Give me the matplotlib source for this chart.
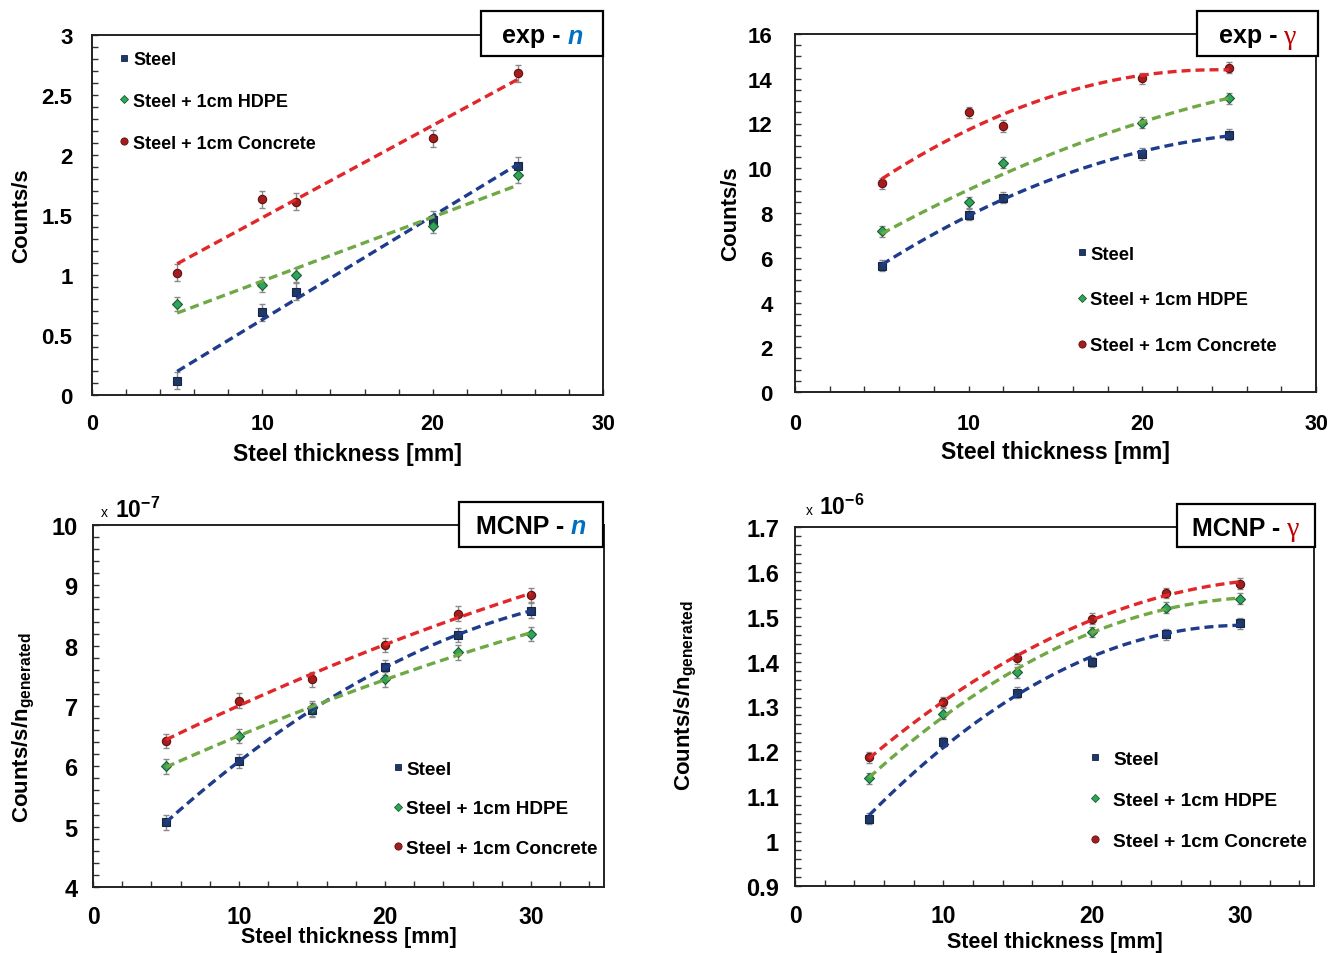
import numpy as np
import matplotlib
matplotlib.use('Agg')
import matplotlib.pyplot as plt
from matplotlib.lines import Line2D
from matplotlib.patches import Rectangle
from matplotlib.ticker import MultipleLocator, FuncFormatter

W, H = 1331, 954
plt.rcParams['font.family'] = ['Liberation Sans', 'DejaVu Sans']
plt.rcParams['font.weight'] = 'bold'
plt.rcParams['mathtext.fontset'] = 'custom'
plt.rcParams['mathtext.rm'] = 'Liberation Sans:bold'
plt.rcParams['mathtext.bf'] = 'Liberation Sans:bold'
plt.rcParams['mathtext.it'] = 'Liberation Sans:bold:italic'

# ---------------- data ----------------
series_labels = ['Steel', 'Steel + 1cm HDPE', 'Steel + 1cm Concrete']

exp_x = [5, 10, 12, 20, 25]
exp_n_steel = [0.12, 0.69, 0.86, 1.46, 1.91]
exp_n_hdpe = [0.76, 0.92, 1.00, 1.41, 1.83]
exp_n_conc = [1.02, 1.63, 1.61, 2.14, 2.68]
exp_n_err = [0.07, 0.06, 0.07]

exp_g_steel = [5.65, 7.92, 8.68, 10.64, 11.50]
exp_g_hdpe = [7.19, 8.47, 10.24, 12.04, 13.13]
exp_g_conc = [9.32, 12.50, 11.89, 14.02, 14.49]
exp_g_err = [0.25, 0.25, 0.25]

mcnp_x = [5, 10, 15, 20, 25, 30]
mcnp_n_steel = [5.07, 6.09, 6.93, 7.64, 8.18, 8.58]   # x 1e-7
mcnp_n_hdpe = [6.00, 6.50, 6.96, 7.44, 7.89, 8.19]
mcnp_n_conc = [6.42, 7.09, 7.44, 8.01, 8.53, 8.84]
mcnp_n_err = [0.12, 0.12, 0.12]

mcnp_g_steel = [1.050, 1.221, 1.331, 1.399, 1.461, 1.485]   # x 1e-6
mcnp_g_hdpe = [1.140, 1.284, 1.376, 1.466, 1.520, 1.540]
mcnp_g_conc = [1.187, 1.310, 1.407, 1.496, 1.553, 1.574]
mcnp_g_err = [0.012, 0.012, 0.012]

# ---------------- styles ----------------
markers = ['s', 'D', 'o']
msizes = [5.5, 5.0, 6.0]
lg_msizes = [4.8, 4.3, 5.2]
mfc = ['#1F3864', '#2EA55A', '#A31D1D']
mec = ['#14244a', '#1c5a30', '#5e1010']
lcol = ['#1F3C8C', '#6FA845', '#E2262A']
BLUE_T = '#0070C0'
RED_T = '#C00000'

fig = plt.figure(figsize=(W / 100, H / 100), dpi=100)


def fx(px):
    return px / W


def fy(py):
    return 1 - py / H


def make_axes(l, t, r, b):
    return fig.add_axes([fx(l), fy(b), (r - l) / W, (b - t) / H])


def fmt(v, pos):
    return f'{round(v, 4):g}'


def panel(rect, x, ys, errs, deg, xlim, ylim, ymaj, ymin, tickfs, ypad, xpad):
    ax = make_axes(*rect)
    x = np.asarray(x, float)
    for i, y in enumerate(ys):
        y = np.asarray(y, float)
        ax.errorbar(x, y, yerr=errs[i], fmt='none', ecolor='#8a8a8a',
                    elinewidth=1.0, capsize=2.5, capthick=1.0, zorder=2)
        ax.plot(x, y, ls='none', marker=markers[i], ms=msizes[i],
                mfc=mfc[i], mec=mec[i], mew=0.8, zorder=3)
        coef = np.polyfit(x, y, deg)
        xs = np.linspace(x.min(), x.max(), 200)
        ax.plot(xs, np.polyval(coef, xs), ls=(0, (2.7, 1.5)), lw=2.4,
                color=lcol[i], zorder=4)
    ax.set_xlim(*xlim)
    ax.set_ylim(*ylim)
    ax.xaxis.set_major_locator(MultipleLocator(10))
    ax.xaxis.set_minor_locator(MultipleLocator(2))
    ax.yaxis.set_major_locator(MultipleLocator(ymaj))
    ax.yaxis.set_minor_locator(MultipleLocator(ymin))
    ax.yaxis.set_major_formatter(FuncFormatter(fmt))
    ax.tick_params(which='both', direction='in', length=4.5, width=1.0,
                   color='#333333')
    ax.tick_params(axis='y', which='major', labelsize=tickfs, pad=ypad)
    ax.tick_params(axis='x', which='major', labelsize=tickfs - 0.5, pad=xpad)
    for lab in ax.get_xticklabels() + ax.get_yticklabels():
        lab.set_fontweight('bold')
    for s in ax.spines.values():
        s.set_linewidth(1.4)
        s.set_color('#222222')
    return ax


def legend(ax, mx, my, fs, ls, tp):
    handles = [Line2D([], [], ls='none', marker=markers[i], ms=lg_msizes[i],
                      mfc=mfc[i], mec=mec[i], mew=0.6) for i in range(3)]
    fs_px = fs * 100 / 72
    hl = 0.7
    ax_x = mx - hl * fs_px / 2
    ax_y = my - 0.56 * fs_px + 4
    ax.legend(handles, series_labels, loc='upper left',
              bbox_to_anchor=(fx(ax_x), fy(ax_y)), bbox_transform=fig.transFigure,
              frameon=False, fontsize=fs, labelspacing=ls, handlelength=hl,
              handletextpad=tp, borderpad=0, borderaxespad=0,
              prop={'weight': 'bold', 'size': fs})


def title_box(x0, y0, x1, y1, main, sym, symcolor, serif):
    fig.add_artist(Rectangle((fx(x0), fy(y1)), (x1 - x0) / W, (y1 - y0) / H,
                             transform=fig.transFigure, fc='white', ec='black',
                             lw=1.6, zorder=10))
    fs = 18
    r = fig.canvas.get_renderer()
    t1 = fig.text(0, 0, main, fontsize=fs, fontweight='bold', zorder=11,
                  va='baseline', ha='left')
    if serif:
        t2 = fig.text(0, 0, sym, fontsize=fs + 2, fontweight='normal',
                      family=['Liberation Serif', 'DejaVu Serif'], color=symcolor,
                      zorder=11, va='baseline', ha='left')
    else:
        t2 = fig.text(0, 0, sym, fontsize=fs, fontweight='bold', style='italic',
                      color=symcolor, zorder=11, va='baseline', ha='left')
    w1 = t1.get_window_extent(r).width
    w2 = t2.get_window_extent(r).width
    gap = 0.28 * fs * 100 / 72
    total = w1 + gap + w2
    cx = (x0 + x1) / 2
    start = cx - total / 2
    base = (y0 + y1) / 2 + 0.36 * fs * 100 / 72
    t1.set_position((fx(start), fy(base)))
    t2.set_position((fx(start + w1 + gap), fy(base)))


# ---------------- panel 1: exp - n ----------------
ax1 = panel((92, 36, 603, 396), exp_x, [exp_n_steel, exp_n_hdpe, exp_n_conc],
            exp_n_err, 1, (0, 30), (0, 3), 0.5, 0.1, 16, 14, 13)
ax1.set_xlabel('Steel thickness [mm]', fontsize=16.5, fontweight='bold')
ax1.xaxis.set_label_coords(0.5, (396 - 454) / 360)
ax1.xaxis.label.set_va('center')
ax1.set_ylabel('Counts/s', fontsize=16, fontweight='bold')
ax1.yaxis.set_label_coords((22 - 92) / 511, 0.5)
ax1.yaxis.label.set_va('center')
legend(ax1, 124, 58, 13, 1.38, 0.15)
title_box(481, 12, 603, 57, 'exp -', 'n', BLUE_T, False)

# ---------------- panel 2: exp - gamma ----------------
ax2 = panel((795, 35, 1316, 393), exp_x, [exp_g_steel, exp_g_hdpe, exp_g_conc],
            exp_g_err, 2, (0, 30), (0, 16), 2, 0.5, 16, 16, 15)
ax2.set_xlabel('Steel thickness [mm]', fontsize=16.5, fontweight='bold')
ax2.xaxis.set_label_coords(0.5, (393 - 453) / 358)
ax2.xaxis.label.set_va('center')
ax2.set_ylabel('Counts/s', fontsize=16, fontweight='bold')
ax2.yaxis.set_label_coords((731 - 795) / 521, 0.5)
ax2.yaxis.label.set_va('center')
legend(ax2, 1082, 253, 13.2, 1.56, 0.1)
title_box(1197, 12, 1318, 57, 'exp -', '\u03b3', RED_T, True)

# ---------------- panel 3: MCNP - n ----------------
ax3 = panel((93, 526, 604, 888), mcnp_x, [mcnp_n_steel, mcnp_n_hdpe, mcnp_n_conc],
            mcnp_n_err, 2, (0, 35), (4, 10), 1, 0.2, 17, 11, 13)
ax3.set_xlabel('Steel thickness [mm]', fontsize=15.5, fontweight='bold')
ax3.xaxis.set_label_coords(0.5, (888 - 938) / 362)
ax3.xaxis.label.set_va('center')
ax3.set_ylabel(r'Counts/s/n$_{\mathrm{generated}}$', fontsize=16, fontweight='bold')
ax3.yaxis.set_label_coords((24 - 93) / 511, (888 - 728) / 362)
ax3.yaxis.label.set_va('center')
legend(ax3, 398, 768, 13.6, 1.18, 0.1)
title_box(459, 503, 603, 548, 'MCNP -', 'n', BLUE_T, False)
fig.text(fx(101), fy(513), 'x', fontsize=10, fontweight='normal', va='center')
fig.text(fx(115), fy(510), r'$\mathbf{10^{-7}}$', fontsize=16.5, va='center')

# ---------------- panel 4: MCNP - gamma ----------------
ax4 = panel((795, 528, 1314, 887), mcnp_x, [mcnp_g_steel, mcnp_g_hdpe, mcnp_g_conc],
            mcnp_g_err, 2, (0, 35), (0.9, 1.7), 0.1, 0.02, 17, 11.5, 13)
ax4.set_xlabel('Steel thickness [mm]', fontsize=15.5, fontweight='bold')
ax4.xaxis.set_label_coords(0.5, (887 - 943) / 359)
ax4.xaxis.label.set_va('center')
ax4.set_ylabel(r'Counts/s/n$_{\mathrm{generated}}$', fontsize=16, fontweight='bold')
ax4.yaxis.set_label_coords((686 - 795) / 519, (887 - 696) / 359)
ax4.yaxis.label.set_va('center')
legend(ax4, 1095, 758, 13.8, 1.23, 0.6)
title_box(1177, 505, 1315, 548, 'MCNP -', '\u03b3', RED_T, True)
fig.text(fx(806), fy(511), 'x', fontsize=10, fontweight='normal', va='center')
fig.text(fx(819), fy(507), r'$\mathbf{10^{-6}}$', fontsize=16.5, va='center')

fig.savefig('out.png', dpi=100)
